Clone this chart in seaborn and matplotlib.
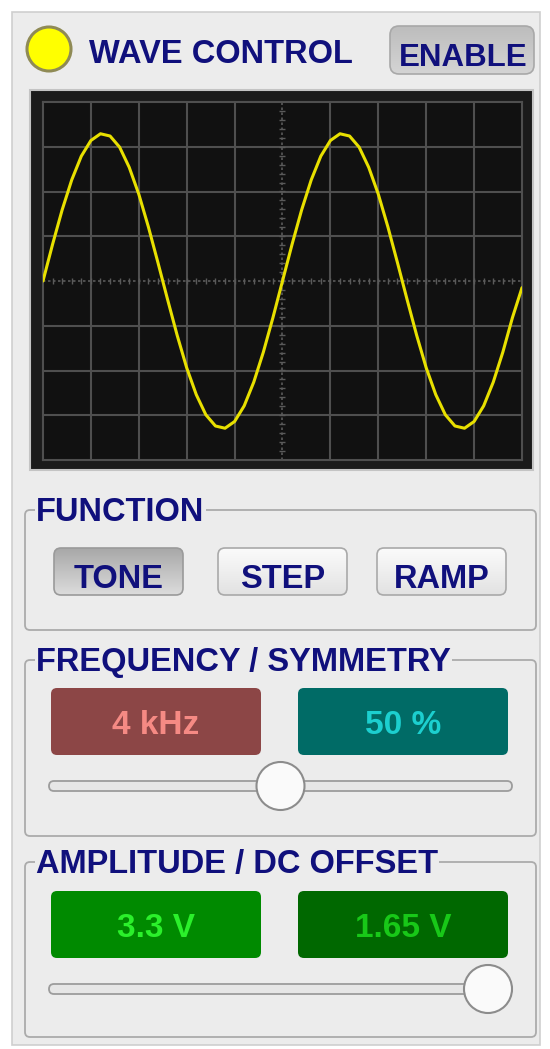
import numpy as np
import matplotlib
matplotlib.use("Agg")
import matplotlib.pyplot as plt
from matplotlib.patches import FancyBboxPatch, Circle, Rectangle
from matplotlib.colors import LinearSegmentedColormap
import seaborn as sns

## scope trace, read every 0.2 div across the 10 div screen (1 V/div)
trace_v = [0.00, 0.82, 1.59, 2.26, 2.79, 3.14, 3.29, 3.24, 2.99, 2.54,
           1.94, 1.21, 0.41, -0.41, -1.21, -1.94, -2.54, -2.99, -3.24, -3.29,
           -3.14, -2.79, -2.26, -1.59, -0.82, 0.00, 0.82, 1.59, 2.26, 2.79,
           3.14, 3.29, 3.24, 2.99, 2.54, 1.94, 1.21, 0.41, -0.41, -1.21,
           -1.94, -2.54, -2.99, -3.24, -3.29, -3.14, -2.79, -2.26, -1.59, -0.82,
           -0.15]
trace_t = np.linspace(0, 10, len(trace_v))

title = "WAVE CONTROL"
enable_label = "ENABLE"
sections = ["FUNCTION", "FREQUENCY / SYMMETRY", "AMPLITUDE / DC OFFSET"]
functions = ["TONE", "STEP", "RAMP"]
active_function = "TONE"
readouts = ["4 kHz", "50 %", "3.3 V", "1.65 V"]
slider_pos = [0.5, 1.0]   # freq slider, amplitude slider (0..1)

NAVY = "#10107c"
PANEL = "#ececec"
FONT = ["Liberation Sans", "DejaVu Sans"]

sns.set_theme(style="dark")
plt.rcParams["font.family"] = FONT

fig = plt.figure(figsize=(5.5, 10.49), dpi=100, facecolor="white")
bg = fig.add_axes([0, 0, 1, 1])
bg.set_axis_off()


def grad_box(x0, y0, w, h, top, bot, edge, r=7, lw=1.2):
    patch = FancyBboxPatch((x0, y0), w, h, boxstyle=f"round,pad=0,rounding_size={r}",
                           fc="none", ec=edge, lw=lw, zorder=4)
    bg.add_patch(patch)
    cmap = LinearSegmentedColormap.from_list("g", [top, bot])
    im = bg.imshow(np.linspace(0, 1, 64)[:, None], extent=(x0, x0 + w, y0 + h, y0),
                   cmap=cmap, aspect="auto", zorder=3)
    im.set_clip_path(patch)


def label(x, y, s, size=24, color=NAVY, ha="left", **kw):
    bg.text(x, y, s, fontsize=size, color=color, fontweight="bold", ha=ha,
            va="baseline", zorder=6, **kw)


# panel
bg.add_patch(Rectangle((12, 12), 528, 1033, fc=PANEL, ec="#cfcfcf", lw=1.2, zorder=1))

# header
bg.add_patch(Circle((49, 49), 22, fc="#ffff00", ec="#8f8a55", lw=2.2, zorder=5))
label(89, 63, title, size=23.5)
grad_box(390, 26, 144, 48, "#bdbdbd", "#d4d4d4", "#a8a8a8", r=9)
label(463, 66, enable_label, size=22.5, ha="center")

# scope frame
bg.add_patch(Rectangle((30, 90), 503, 380, fc="#1b1b1b", ec="#c4c4c4", lw=1.5, zorder=2))

# group boxes
boxes = [(510, 630), (660, 836), (862, 1037)]
for (y0, y1), name in zip(boxes, sections):
    bg.add_patch(FancyBboxPatch((25, y0), 511, y1 - y0, boxstyle="round,pad=0,rounding_size=5",
                                fc="none", ec="#ababab", lw=1.3, zorder=2))
    label(36, y0 + 11, name, size=23.5,
          bbox=dict(fc=PANEL, ec="none", pad=1))

# function buttons
btn_x = [54, 218, 377]
for x, name in zip(btn_x, functions):
    if name == active_function:
        grad_box(x, 548, 129, 47, "#a8a8a8", "#dcdcdc", "#9a9a9a")
    else:
        grad_box(x, 548, 129, 47, "#fbfbfb", "#e2e2e2", "#a9a9a9")
    label(x + 64.5, 588, name, size=23.5, ha="center")

# readouts
disp_x = [51, 298]
disp_y = [688, 891]
disp_fc = ["#8c4646", "#006b66", "#008a00", "#006800"]
disp_tc = ["#f58a84", "#1ccfcf", "#2bf02b", "#18c818"]
for i, txt in enumerate(readouts):
    x = disp_x[i % 2]
    y = disp_y[i // 2]
    bg.add_patch(FancyBboxPatch((x, y), 210, 67, boxstyle="round,pad=0,rounding_size=6",
                                fc=disp_fc[i], ec="none", zorder=3))
    label(x + 105, y + 46, txt, size=24, color=disp_tc[i], ha="center")

# sliders
track_y = [786, 989]
for ty, p in zip(track_y, slider_pos):
    bg.add_patch(FancyBboxPatch((49, ty - 5), 463, 10, boxstyle="round,pad=0,rounding_size=5",
                                fc="#e6e6e6", ec="#9c9c9c", lw=1.3, zorder=3))
    kx = 49 + 24 + p * (463 - 48)
    bg.add_patch(Circle((kx, ty), 24, fc="#fafafa", ec="#8c8c8c", lw=1.5, zorder=5))

bg.set_xlim(0, 550)
bg.set_ylim(1049, 0)

# scope screen
ax = fig.add_axes([43 / 550, (1049 - 460) / 1049, 479 / 550, 358 / 1049])
ax.set_facecolor("#111111")
for v in range(1, 10):
    if v != 5:
        ax.axvline(v, color="#4f4f4f", lw=1.5, zorder=1)
for h in range(-3, 4):
    if h != 0:
        ax.axhline(h, color="#4f4f4f", lw=1.5, zorder=1)
ax.axhline(0, color="#5a5a5a", lw=1.2, ls=(0, (1.5, 1.5)), zorder=1)
ax.axvline(5, color="#5a5a5a", lw=1.2, ls=(0, (1.5, 1.5)), zorder=1)
minor_x = np.arange(0.2, 10, 0.2)
minor_y = np.arange(-3.8, 4, 0.2)
ax.scatter(minor_x, np.zeros_like(minor_x), marker="|", s=18, color="#5a5a5a", lw=1, zorder=1)
ax.scatter(np.full_like(minor_y, 5), minor_y, marker="_", s=18, color="#5a5a5a", lw=1, zorder=1)

sns.lineplot(x=trace_t, y=trace_v, ax=ax, color="#e8e000", lw=2.2, zorder=3)

ax.set_xlim(0, 10)
ax.set_ylim(-4, 4)
ax.set_xticks([])
ax.set_yticks([])
ax.grid(False)
for s in ax.spines.values():
    s.set_color("#4f4f4f")
    s.set_linewidth(1.5)

fig.savefig("out.png", dpi=100, facecolor="white")
